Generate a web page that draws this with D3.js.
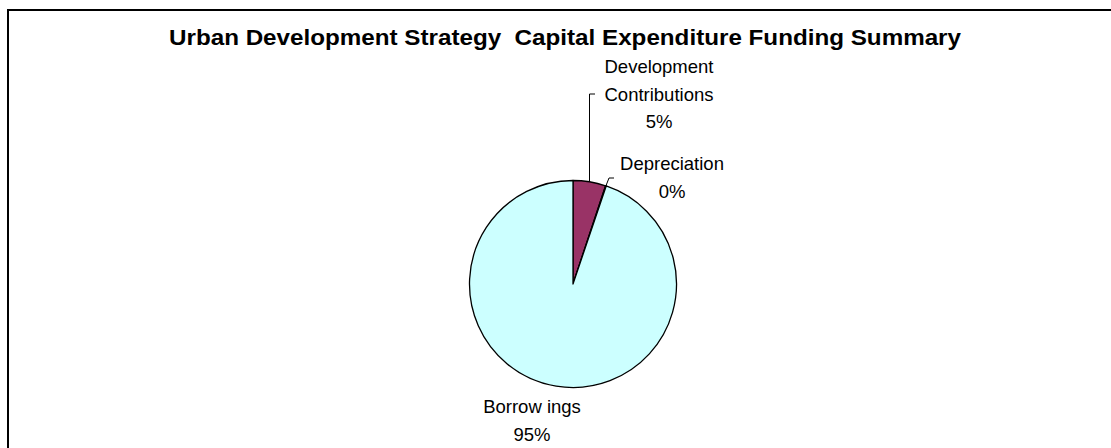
<!DOCTYPE html>
<html>
<head>
<meta charset="utf-8">
<script src="https://cdn.jsdelivr.net/npm/d3@7"></script>
<style>
  html, body { margin: 0; padding: 0; background: #ffffff; }
  svg { display: block; }
  text { white-space: pre; }
</style>
</head>
<body>
<svg id="chart" width="1111" height="448"></svg>
<script>
// Funding sources, in drawing order (clockwise from 12 o'clock)
const categories = ["Development Contributions", "Depreciation", "Borrowings"];
const labelLines = [["Development", "Contributions"], ["Depreciation"], ["Borrow ings"]];
const values = [5.1, 0.1, 94.8];
const colors = ["#993366", "#CCFFFF", "#CCFFFF"];

const title = "Urban Development Strategy  Capital Expenditure Funding Summary";

const cx = 573, cy = 284, R = 103.5;
const svg = d3.select("#chart");

// chart frame (runs off the right and bottom of the view)
svg.append("rect")
  .attr("x", 8).attr("y", 10)
  .attr("width", 1200).attr("height", 600)
  .attr("fill", "#ffffff")
  .attr("stroke", "#000000").attr("stroke-width", 2);

// title, stretched to its full measured width
const titleText = svg.append("text")
  .attr("x", 169).attr("y", 45)
  .attr("font-family", "'Liberation Sans', Arial, sans-serif")
  .attr("font-weight", "bold")
  .attr("font-size", 21.5)
  .attr("fill", "#000")
  .text(title);
titleText.attr("textLength", 792).attr("lengthAdjust", "spacingAndGlyphs");

const total = d3.sum(values);
const rows = categories.map((c, i) => ({ name: c, lines: labelLines[i], value: values[i], color: colors[i] }));

const pie = d3.pie().sort(null).value(d => d.value).startAngle(0).endAngle(2 * Math.PI);
const arcs = pie(rows);
const arc = d3.arc().innerRadius(0).outerRadius(R);
const edge = d3.arc().innerRadius(R).outerRadius(R);

const g = svg.append("g").attr("transform", `translate(${cx},${cy})`);

g.selectAll("path.slice")
  .data(arcs)
  .join("path")
  .attr("class", "slice")
  .attr("d", arc)
  .attr("fill", d => d.data.color)
  .attr("stroke", "#000")
  .attr("stroke-width", 1.3)
  .attr("stroke-linejoin", "round");

// label placement relative to the pie centre: anchor of the first text line,
// and the elbow/end of the leader line (null = no leader)
const labelLayout = {
  "Development Contributions": { x: 86, y: -211, leader: [[17, -190], [22, -190]] },
  "Depreciation":              { x: 99, y: -114, leader: [[36, -106], [41, -106]] },
  "Borrowings":                { x: -41, y: 129, leader: null }
};

const lineGap = 27.5;
const fmt = v => Math.round(v / total * 100) + "%";

arcs.forEach(d => {
  const lay = labelLayout[d.data.name];
  if (lay.leader) {
    const p0 = edge.centroid(d);
    const pts = [[p0[0], p0[1]], [lay.leader[0][0], lay.leader[0][1]], [lay.leader[1][0], lay.leader[1][1]]];
    if (d.data.name === "Development Contributions") pts[1][0] = p0[0];
    g.append("path")
      .attr("d", d3.line()(pts))
      .attr("fill", "none")
      .attr("stroke", "#000")
      .attr("stroke-width", 1);
  }
  const t = g.append("text")
    .attr("text-anchor", "middle")
    .attr("font-family", "'Liberation Sans', Arial, sans-serif")
    .attr("font-size", 18.5)
    .attr("fill", "#000");
  const lines = d.data.lines.concat([fmt(d.data.value)]);
  lines.forEach((ln, i) => {
    t.append("tspan")
      .attr("x", lay.x)
      .attr("y", lay.y + i * lineGap)
      .text(ln);
  });
});
</script>
</body>
</html>
